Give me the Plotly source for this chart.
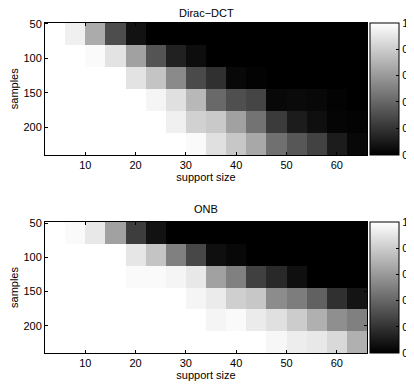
import plotly.graph_objects as go

support = [4, 8, 12, 16, 20, 24, 28, 32, 36, 40, 44, 48, 52, 56, 60, 64]
samples = [64, 96, 128, 160, 192, 224]

dirac_dct = [
    [1.00, 0.94, 0.67, 0.30, 0.07, 0.00, 0.00, 0.00, 0.00, 0.00, 0.00, 0.00, 0.00, 0.00, 0.00, 0.00],
    [1.00, 1.00, 0.98, 0.89, 0.63, 0.33, 0.13, 0.05, 0.00, 0.00, 0.00, 0.00, 0.00, 0.00, 0.00, 0.00],
    [1.00, 1.00, 1.00, 1.00, 0.89, 0.77, 0.54, 0.29, 0.19, 0.03, 0.01, 0.00, 0.00, 0.00, 0.00, 0.00],
    [1.00, 1.00, 1.00, 1.00, 1.00, 0.96, 0.88, 0.72, 0.41, 0.31, 0.27, 0.03, 0.04, 0.03, 0.01, 0.00],
    [1.00, 1.00, 1.00, 1.00, 1.00, 1.00, 0.94, 0.82, 0.79, 0.63, 0.45, 0.23, 0.11, 0.06, 0.02, 0.01],
    [1.00, 1.00, 1.00, 1.00, 1.00, 1.00, 1.00, 0.98, 0.88, 0.78, 0.66, 0.44, 0.34, 0.26, 0.11, 0.03],
]

onb = [
    [1.00, 0.98, 0.91, 0.63, 0.24, 0.07, 0.00, 0.00, 0.00, 0.00, 0.00, 0.00, 0.00, 0.00, 0.00, 0.00],
    [1.00, 1.00, 1.00, 1.00, 0.90, 0.77, 0.50, 0.28, 0.06, 0.03, 0.00, 0.00, 0.00, 0.00, 0.00, 0.00],
    [1.00, 1.00, 1.00, 1.00, 0.98, 0.98, 0.96, 0.91, 0.63, 0.50, 0.25, 0.16, 0.06, 0.00, 0.00, 0.00],
    [1.00, 1.00, 1.00, 1.00, 1.00, 1.00, 1.00, 0.96, 0.92, 0.81, 0.78, 0.55, 0.49, 0.38, 0.19, 0.08],
    [1.00, 1.00, 1.00, 1.00, 1.00, 1.00, 1.00, 1.00, 0.96, 0.98, 0.92, 0.88, 0.80, 0.69, 0.56, 0.50],
    [1.00, 1.00, 1.00, 1.00, 1.00, 1.00, 1.00, 1.00, 1.00, 1.00, 1.00, 0.97, 0.93, 0.91, 0.85, 0.69],
]

titles = ["Dirac\u2212DCT", "ONB"]
x_ticks = [10, 20, 30, 40, 50, 60]
y_ticks = [50, 100, 150, 200]
cb_ticks = [0, 0.2, 0.4, 0.6, 0.8, 1]

# The page body adds an 8px offset, so the figure is laid out 8px smaller.
W, H = 406, 379
ml, mr, mt, mb = 37, 47, 14, 34
pw = W - ml - mr
ph = H - mt - mb

# plot boxes in figure pixels (top, bottom)
boxes = [(14.5, 147.0), (214.0, 345.0)]
domains = [[max(0.0, (H - mb - b) / ph), min(1.0, (H - mb - t) / ph)] for t, b in boxes]
title_y = [4.5, 201.0]

font = dict(family="Liberation Sans, Arial, sans-serif", size=11, color="black")
gray = [[0, "black"], [1, "white"]]

fig = go.Figure()
for i, (z, title) in enumerate(zip([dirac_dct, onb], titles)):
    d = domains[i]
    fig.add_trace(go.Heatmap(
        x=support, y=samples, z=z, zmin=0, zmax=1, colorscale=gray,
        xaxis="x" if i == 0 else "x2", yaxis="y" if i == 0 else "y2",
        colorbar=dict(
            x=(361.5 - ml) / pw, xanchor="left", xpad=0,
            y=(d[0] + d[1]) / 2, yanchor="middle", ypad=0,
            len=d[1] - d[0], lenmode="fraction", thickness=29,
            outlinewidth=1, outlinecolor="black",
            tickvals=cb_ticks, ticktext=[f"{v:g}" for v in cb_ticks],
            ticks="inside", ticklen=3, tickcolor="black", tickfont=font,
        ),
        hoverinfo="skip",
    ))

axis_common = dict(showline=True, linecolor="black", linewidth=1, mirror="ticks",
                   ticks="inside", ticklen=3, tickcolor="black", showgrid=False,
                   zeroline=False, tickfont=font)

layout = dict(
    width=W, height=H, margin=dict(l=ml, r=mr, t=mt, b=mb, autoexpand=False),
    paper_bgcolor="white", plot_bgcolor="white", font=font, showlegend=False,
)
for i in range(2):
    sx = "" if i == 0 else "2"
    layout["xaxis" + sx] = dict(axis_common, domain=[0, 1], range=[2, 66],
                                tickvals=x_ticks, anchor="y" + sx,
                                title=dict(text="support size", font=font, standoff=2))
    layout["yaxis" + sx] = dict(axis_common, domain=domains[i], range=[240, 48],
                                tickvals=y_ticks, anchor="x" + sx,
                                title=dict(text="samples", font=font, standoff=4))
fig.update_layout(**layout)

for i, title in enumerate(titles):
    fig.add_annotation(text=title, xref="paper", yref="paper", x=0.5,
                       y=(H - mb - title_y[i]) / ph, yanchor="middle",
                       showarrow=False, font=font)

fig.write_html("out.html")
